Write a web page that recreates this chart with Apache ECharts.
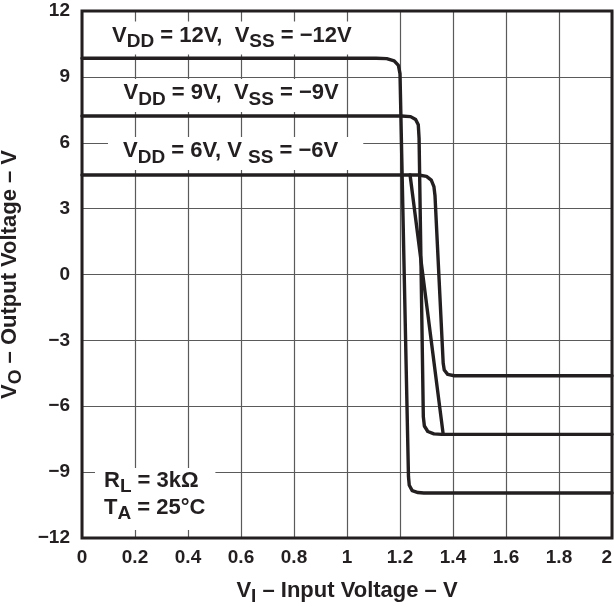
<!DOCTYPE html>
<html>
<head>
<meta charset="utf-8">
<script src="https://cdn.jsdelivr.net/npm/echarts@6/dist/echarts.min.js"></script>
<style>
html,body{margin:0;padding:0;background:#fff;}
#chart{width:614px;height:607px;}
</style>
</head>
<body>
<div id="chart"></div>
<script>
// ---- data ----
const xTicks = [0, 0.2, 0.4, 0.6, 0.8, 1, 1.2, 1.4, 1.6, 1.8, 2];
const yTicks = [-12, -9, -6, -3, 0, 3, 6, 9, 12];
const vdd12 = [[0,9.85],[1.11,9.85],[1.15,9.83],[1.178,9.73],[1.194,9.52],[1.2,9.15],[1.232,-9.2],[1.235,-9.6],[1.246,-9.84],[1.268,-9.93],[1.29,-9.95],[2,-9.95]];
const vdd9 = [[0,7.22],[1.205,7.22],[1.24,7.19],[1.259,7.06],[1.269,6.82],[1.272,6.2],[1.288,-6.47],[1.292,-6.9],[1.305,-7.15],[1.328,-7.26],[1.357,-7.28],[2,-7.28]];
const vdd6 = [[0,4.53],[1.27,4.53],[1.3,4.47],[1.318,4.3],[1.328,4.0],[1.332,3.6],[1.363,-4.04],[1.367,-4.35],[1.38,-4.55],[1.405,-4.61],[2,-4.61]];
const crossLine = [[1.238,4.53],[1.363,-7.28]];
const labels = {
  v12: '{m|V}{s|DD}{m| = 12V,  V}{s|SS}{m| = \u221212V}',
  v9: '{m|V}{s|DD}{m| = 9V,  V}{s|SS}{m| = \u22129V}',
  v6: '{m|V}{s|DD}{m| = 6V, V }{s|SS}{m| = \u22126V}',
  cond: '{m|R}{s|L}{m| = 3k\u03A9}\n{m|T}{s|A}{m| = 25\u00B0C}'
};

const FONT = "'Liberation Sans', Arial, Helvetica, sans-serif";
const INK = '#231f20';
const richText = {
  m: {fontSize: 22, fontWeight: 'bold', fontFamily: FONT, color: INK, fill: INK, verticalAlign: 'top'},
  s: {fontSize: 19, fontWeight: 'bold', fontFamily: FONT, color: INK, fill: INK, verticalAlign: 'top', padding: [8, 0, 0, 0]}
};
const richName = {
  m: {fontSize: 22, fontWeight: 'bold', fontFamily: FONT, color: INK, verticalAlign: 'top'},
  s: {fontSize: 19, fontWeight: 'bold', fontFamily: FONT, color: INK, verticalAlign: 'top', padding: [7, 0, 0, 0]}
};

function lineSeries(name, data) {
  return {
    name: name, type: 'line', data: data, showSymbol: false, symbol: 'none',
    lineStyle: {color: INK, width: 3.4, join: 'round', cap: 'round'},
    z: 3, animation: false
  };
}

function label(text, x, y, padding) {
  return {
    type: 'text', x: x, y: y, z: 10,
    style: {
      text: text, rich: richText, fill: INK,
      fontFamily: FONT, fontSize: 22, fontWeight: 'bold',
      align: 'left', verticalAlign: 'top',
      backgroundColor: '#ffffff', padding: padding
    }
  };
}

const chart = echarts.init(document.getElementById('chart'), null, {renderer: 'canvas'});
chart.setOption({
  animation: false,
  backgroundColor: '#ffffff',
  grid: {left: 82, right: 2, top: 11, bottom: 69, show: true, borderColor: INK, borderWidth: 3, z: 1,
         backgroundColor: 'transparent', containLabel: false, outerBoundsMode: 'none'},
  xAxis: {
    type: 'value', min: xTicks[0], max: xTicks[xTicks.length - 1], interval: 0.2,
    axisLine: {show: false}, axisTick: {show: false},
    axisLabel: {
      fontSize: 19, fontWeight: 'bold', fontFamily: FONT, color: INK, margin: 10,
      showMinLabel: true, showMaxLabel: true, alignMaxLabel: 'right',
      formatter: function (v) { return String(Math.round(v * 10) / 10); }
    },
    splitLine: {show: true, lineStyle: {color: '#5a5a5a', width: 1.2}},
    name: '{m|V}{s|I}{m| \u2013 Input Voltage \u2013 V}',
    nameLocation: 'middle', nameGap: 42,
    nameTextStyle: {rich: richName}
  },
  yAxis: {
    type: 'value', min: yTicks[0], max: yTicks[yTicks.length - 1], interval: 3,
    axisLine: {show: false}, axisTick: {show: false},
    axisLabel: {
      fontSize: 19, fontWeight: 'bold', fontFamily: FONT, color: INK, margin: 12,
      showMinLabel: true, showMaxLabel: true,
      formatter: function (v) { return String(v).replace('-', '\u2212'); }
    },
    splitLine: {show: true, lineStyle: {color: '#5a5a5a', width: 1.2}},
    name: '{m|V}{s|O}{m| \u2013 Output Voltage \u2013 V}',
    nameLocation: 'middle', nameGap: 57, nameRotate: 90,
    nameTextStyle: {rich: richName}
  },
  series: [
    lineSeries('VDD=12V', vdd12),
    lineSeries('VDD=9V', vdd9),
    lineSeries('VDD=6V', vdd6),
    lineSeries('cross', crossLine)
  ],
  graphic: [
    label(labels.v12, 108, 21.5, [3, 4, 3, 4]),
    label(labels.v9, 119.5, 79, [3, 4, 3, 4]),
    label(labels.v6, 108, 137, [3, 25, 3, 15]),
    label(labels.cond, 95, 468, [1.5, 10, 6.5, 9])
  ]
});
</script>
</body>
</html>
